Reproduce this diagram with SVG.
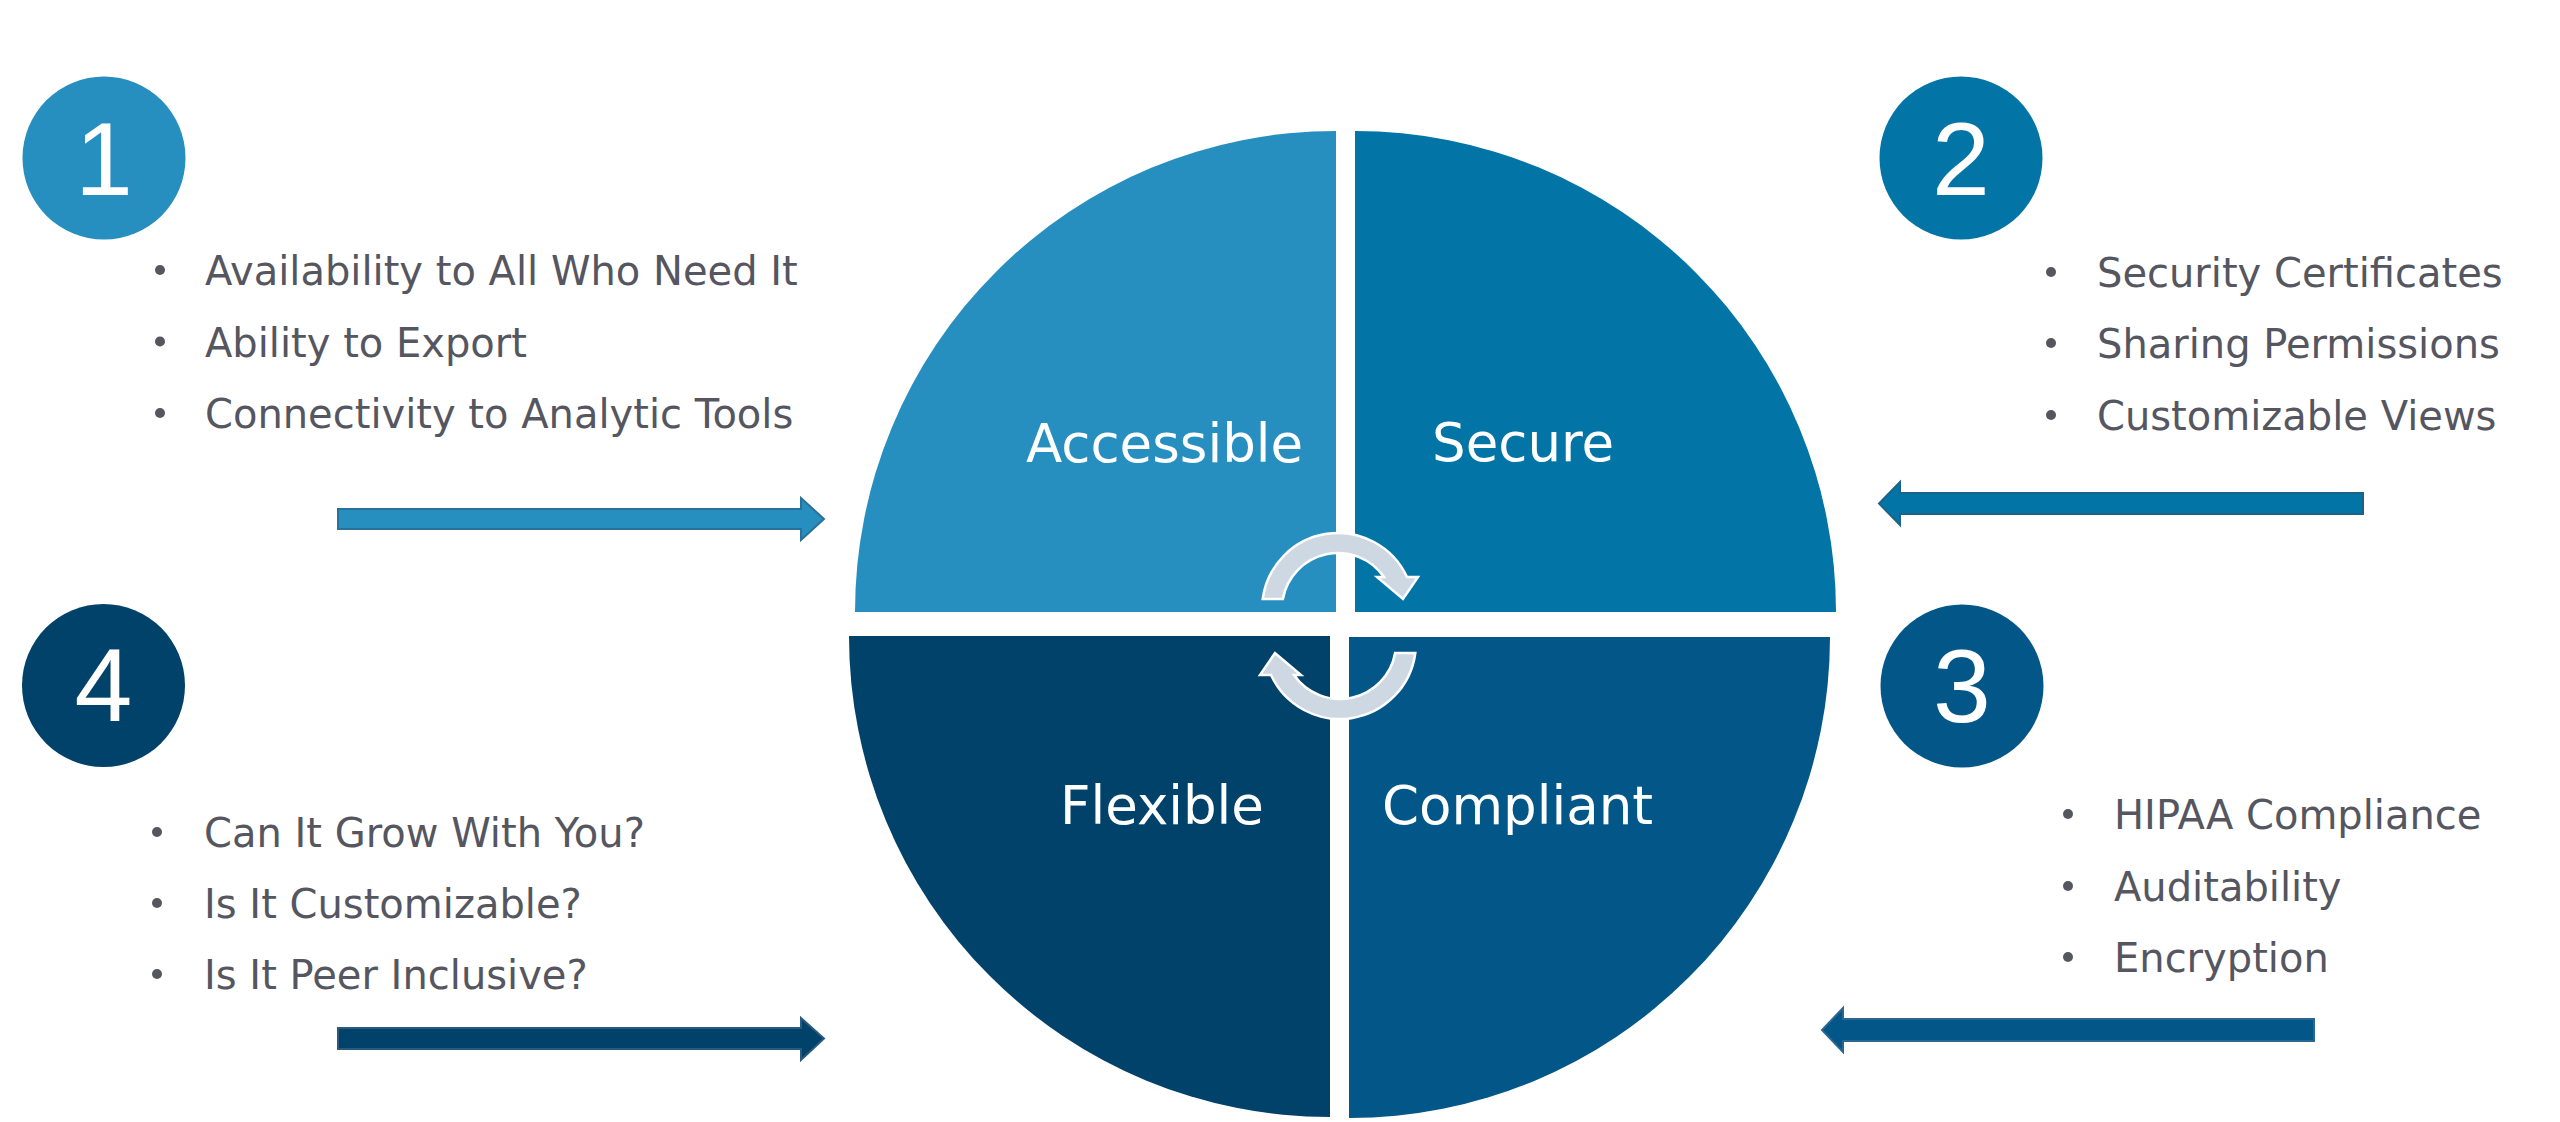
<svg xmlns="http://www.w3.org/2000/svg" width="2560" height="1122" viewBox="0 0 2560 1122">
  <style>
    .body { font-family: "DejaVu Sans", Verdana, sans-serif; font-size: 40px; fill: #55565F; }
    .label { font-family: "DejaVu Sans", Verdana, sans-serif; font-size: 53px; fill: #FFFFFF; }
    .num { font-family: "Liberation Sans", Arial, sans-serif; font-size: 104px; fill: #FFFFFF; text-anchor: middle; }
    .bullet { fill: #55565F; }
    .c1 { fill: #268FC0; }
    .c2 { fill: #0274A5; }
    .c3 { fill: #025688; }
    .c4 { fill: #01426A; }
    .curl { fill: #CED8E2; stroke: #FFFFFF; stroke-width: 2.5; stroke-linejoin: miter; }
    .arr { stroke-width: 2; stroke-linejoin: miter; }
  </style>
  <defs>
    <path id="curl" d="M 1262.7,599 A 76 76 0 0 1 1407,577 L 1418,577 L 1403,599 L 1377,577 L 1384,577 A 56 56 0 0 0 1282.9,599 Z"/>
  </defs>
  <rect x="0" y="0" width="2560" height="1122" fill="#FFFFFF"/>

  <g id="quadrant-accessible">
    <path class="c1" d="M1336,612 L855,612 A481,481 0 0 1 1336,131 Z"/>
    <text class="label" x="1026" y="462">Accessible</text>
  </g>
  <g id="quadrant-secure">
    <path class="c2" d="M1355,612 L1355,131 A481,481 0 0 1 1836,612 Z"/>
    <text class="label" x="1432" y="461">Secure</text>
  </g>
  <g id="quadrant-flexible">
    <path class="c4" d="M1330,636 L1330,1117 A481,481 0 0 1 849,636 Z"/>
    <text class="label" x="1060" y="824">Flexible</text>
  </g>
  <g id="quadrant-compliant">
    <path class="c3" d="M1349,637 L1830,637 A481,481 0 0 1 1349,1118 Z"/>
    <text class="label" x="1382" y="824">Compliant</text>
  </g>

  <g id="step-1">
    <circle class="c1" cx="104" cy="158" r="81.5"/>
    <text class="num" x="104" y="195">1</text>
    <circle class="bullet" cx="160" cy="270" r="5"/>
    <text class="body" x="205" y="285">Availability to All Who Need It</text>
    <circle class="bullet" cx="160" cy="341.5" r="5"/>
    <text class="body" x="205" y="356.5">Ability to Export</text>
    <circle class="bullet" cx="160" cy="413" r="5"/>
    <text class="body" x="205" y="428">Connectivity to Analytic Tools</text>
  </g>

  <g id="step-2">
    <circle class="c2" cx="1961" cy="158" r="81.5"/>
    <text class="num" x="1961" y="195">2</text>
    <circle class="bullet" cx="2051" cy="272" r="5"/>
    <text class="body" x="2097" y="287">Security Certificates</text>
    <circle class="bullet" cx="2051" cy="343" r="5"/>
    <text class="body" x="2097" y="358">Sharing Permissions</text>
    <circle class="bullet" cx="2051" cy="415" r="5"/>
    <text class="body" x="2097" y="430">Customizable Views</text>
  </g>

  <g id="step-3">
    <circle class="c3" cx="1962" cy="686" r="81.5"/>
    <text class="num" x="1962" y="722">3</text>
    <circle class="bullet" cx="2068" cy="814" r="5"/>
    <text class="body" x="2114" y="829">HIPAA Compliance</text>
    <circle class="bullet" cx="2068" cy="886" r="5"/>
    <text class="body" x="2114" y="901">Auditability</text>
    <circle class="bullet" cx="2068" cy="957" r="5"/>
    <text class="body" x="2114" y="972">Encryption</text>
  </g>

  <g id="step-4">
    <circle class="c4" cx="103.5" cy="685.5" r="81.5"/>
    <text class="num" x="103.5" y="721">4</text>
    <circle class="bullet" cx="157" cy="832" r="5"/>
    <text class="body" x="204" y="847">Can It Grow With You?</text>
    <circle class="bullet" cx="157" cy="903" r="5"/>
    <text class="body" x="204" y="918">Is It Customizable?</text>
    <circle class="bullet" cx="157" cy="974" r="5"/>
    <text class="body" x="204" y="989">Is It Peer Inclusive?</text>
  </g>

  <g id="connectors">
    <path class="c1 arr" stroke="#2A7099" d="M338,509 L801,509 L801,498 L824,519 L801,540 L801,529 L338,529 Z"/>
    <path class="c2 arr" stroke="#1D6388" d="M2363,493 L1900,493 L1900,482 L1879,503.5 L1900,525 L1900,514 L2363,514 Z"/>
    <path class="c3 arr" stroke="#2A6690" d="M2314,1019 L1843,1019 L1843,1008 L1822,1030 L1843,1052 L1843,1041 L2314,1041 Z"/>
    <path class="c4 arr" stroke="#2A5A80" d="M338,1028 L801,1028 L801,1018 L824,1038.5 L801,1060 L801,1049 L338,1049 Z"/>
    <use href="#curl" class="curl"/>
    <use href="#curl" class="curl" transform="rotate(180 1339 626)"/>
  </g>
</svg>
